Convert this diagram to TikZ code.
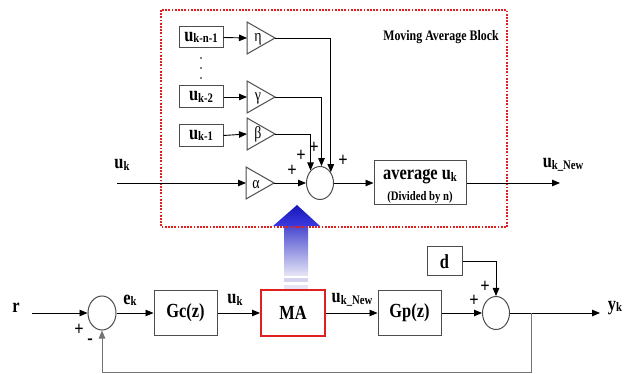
\documentclass[tikz,border=0pt]{standalone}
\usepackage{fontspec}
\setmainfont{Liberation Serif}[FakeStretch=0.82]
\usetikzlibrary{arrows.meta,shapes.geometric}
\newcommand\lbl{\fontsize{20}{22}\selectfont\bfseries}
\newcommand\sbk[1]{\raisebox{-0.15ex}{\fontsize{13}{14}\selectfont #1}}
\definecolor{dotred}{HTML}{E02020}
\definecolor{arrowtop}{HTML}{1818B8}
\definecolor{arrowbase}{HTML}{3A3AE0}
\definecolor{shafttop}{HTML}{4A4AD0}
\definecolor{shaftbot}{HTML}{E6E6F6}
\definecolor{stripe}{HTML}{D4D4EE}
\tikzset{
 blk/.style={draw=black!70, line width=1pt, inner sep=0pt, font=\lbl},
 arr/.style={-{Triangle[length=8pt,width=6.5pt]}, line width=0.9pt},
 sumc/.style={ellipse, draw=black!70, line width=1pt, minimum width=27pt, minimum height=33pt, inner sep=0pt},
 tri/.style={draw=black!70, line width=1pt},
 txt/.style={font=\lbl, inner sep=0pt},
 grk/.style={font=\fontsize{17}{17}\selectfont, inner sep=0pt},
 pl/.style={font=\fontsize{20}{20}\selectfont\bfseries, inner sep=0pt},
}
\begin{document}
\begin{tikzpicture}[x=1pt,y=-1pt]
\useasboundingbox (0,0) rectangle (635,374);
% big gradient arrow
\shade[top color=shafttop, bottom color=shaftbot] (284,226) rectangle (308,276);
\fill[stripe] (284,278) rectangle (308,282);
\fill[stripe!60!white] (284,285) rectangle (308,289);
\shade[top color=arrowtop, bottom color=arrowbase] (273,226) -- (297,205) -- (320,226) -- cycle;
% dotted block
\draw[dotred, line width=2.4pt, dash pattern=on 1.8pt off 1.4pt] (161,10) rectangle (507,227);
\node[font=\fontsize{14.5}{15}\selectfont\bfseries, inner sep=0pt] (mab) at (441,37) {Moving Average Block};
% delay boxes
\node[blk, minimum width=44pt, minimum height=21pt] (bn) at (201,37.5) {u\sbk{k-n-1}};
\fill (201,58) circle (0.9pt) (201,68) circle (0.9pt) (201,78) circle (0.9pt);
\node[blk, minimum width=44pt, minimum height=22pt] (b2) at (201,97) {u\sbk{k-2}};
\node[blk, minimum width=44pt, minimum height=22pt] (b1) at (201,135.5) {u\sbk{k-1}};
% gains
\draw[tri] (247,22) -- (275,38) -- (247,54) -- cycle;
\node[grk] (eta) at (258,39) {η};
\coordinate (etai) at (247,38); \coordinate (etao) at (275,38);
\draw[tri] (247,81) -- (275,97) -- (247,113) -- cycle;
\node[grk] (gam) at (258,98) {γ};
\coordinate (gami) at (247,97); \coordinate (gamo) at (275,97);
\draw[tri] (247,118) -- (275,134) -- (247,150) -- cycle;
\node[grk] (bet) at (258,134) {β};
\coordinate (beti) at (247,134); \coordinate (beto) at (275,134);
\draw[tri] (246,167) -- (274,183) -- (246,199) -- cycle;
\node[grk] (alp) at (256,185) {α};
\coordinate (alpi) at (246,183); \coordinate (alpo) at (274,183);
% sum and average
\node[sumc] (sumA) at (320,183) {};
\node[blk, minimum width=92pt, minimum height=44pt] (avg) at (420,183) {};
\node[txt] (avgt) at (420,177) {average u\sbk{k}};
\node[font=\fontsize{13}{14}\selectfont\bfseries, inner sep=0pt] (avgs) at (420,197) {(Divided by n)};
\coordinate (ukin) at (117,183);
\coordinate (ukout) at (560,183);
\node[txt] (uklbl) at (122,165) {u\sbk{k}};
\node[txt] (uknlbl) at (563,165) {u\sbk{k\_New}};
% top connectors
\draw[arr] (bn.east) -- (etai);
\draw[arr] (b2.east) -- (gami);
\draw[arr] (b1.east) -- (beti);
\draw[arr] (ukin) -- (alpi);
\draw[arr] (alpo) -- (sumA.west);
\draw[arr] (etao) -| (sumA.45);
\draw[arr] (gamo) -| (sumA.85);
\draw[arr] (beto) -| (sumA.127);
\draw[arr] (sumA.east) -- (avg.west);
\draw[arr] (avg.east) -- (ukout);
\node[pl] (pa) at (292,171) {+};
\node[pl] (pb) at (301,156) {+};
\node[pl] (pc) at (314,148) {+};
\node[pl] (pd) at (343,161) {+};
% bottom loop
\node[txt] (rlbl) at (16,308) {r};
\coordinate (rin) at (32,313);
\node[sumc, minimum width=28pt, minimum height=34pt] (sumB) at (102,313) {};
\node[txt] (eklbl) at (130,300) {e\sbk{k}};
\node[blk, minimum width=63pt, minimum height=44pt] (gc) at (185.5,313) {Gc(z)};
\node[txt] (uklbl2) at (235,300) {u\sbk{k}};
\node[blk, draw=dotred, line width=2pt, minimum width=64pt, minimum height=46pt] (ma) at (293,313) {MA};
\node[txt] (uknlbl2) at (352,300) {u\sbk{k\_New}};
\node[blk, minimum width=63pt, minimum height=44pt] (gp) at (409.5,313) {Gp(z)};
\node[sumc] (sumC) at (496,313) {};
\node[blk, minimum width=35pt, minimum height=29pt] (d) at (444.5,261.5) {d};
\coordinate (branch) at (531,313);
\coordinate (yout) at (600,313);
\coordinate (fbc) at (102,372);
\node[txt] (yklbl) at (615,308) {y\sbk{k}};
\draw[arr] (rin) -- (sumB.west);
\draw[arr] (sumB.east) -- (gc.west);
\draw[arr] (gc.east) -- (ma.west);
\draw[arr] (ma.east) -- (gp.west);
\draw[arr] (gp.east) -- (sumC.west);
\draw[arr] (d.east) -| (sumC.north);
\draw[arr] (sumC.east) -- (yout);
\draw[arr, draw=black!55] (branch) |- (fbc) -- (sumB.south);
\node[pl] (p1) at (79,330) {+};
\node[pl] (m1) at (90,342) {-};
\node[pl] (p2) at (485,287) {+};
\node[pl] (p3) at (474,301) {+};
\end{tikzpicture}
\end{document}
